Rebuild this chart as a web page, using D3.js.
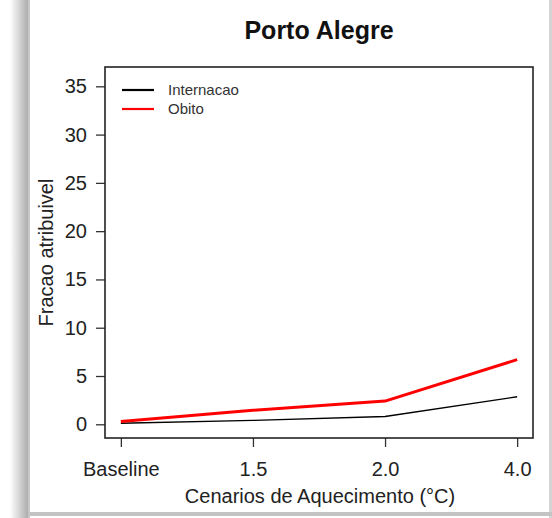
<!DOCTYPE html>
<html>
<head>
<meta charset="utf-8">
<script src="https://cdn.jsdelivr.net/npm/d3@7"></script>
<style>
  body { margin: 0; background: #fff; }
  svg { display: block; font-family: "Liberation Sans", Arial, sans-serif; }
</style>
</head>
<body>
<div id="chart"></div>
<script>
// data
const categories = ['Baseline', '1.5', '2.0', '4.0']
const internacao = [0.1, 0.4, 0.8, 2.85]
const obito = [0.3, 1.45, 2.4, 6.7]
const yTicks = [0, 5, 10, 15, 20, 25, 30, 35]
const series = [
  { name: 'Internacao', values: internacao, color: '#000', width: 1.4 },
  { name: 'Obito', values: obito, color: '#ff0000', width: 3 }
]

const W = 552
const H = 518
const box = { left: 105, right: 533, top: 67, bottom: 438 }
const FONT = '"Liberation Sans", Arial, sans-serif'

const svg = d3.select('#chart').append('svg')
  .attr('width', W)
  .attr('height', H)

// frame / shadow
const defs = svg.append('defs')
const grad = defs.append('linearGradient').attr('id', 'shadow')
grad.append('stop').attr('offset', '0%').attr('stop-color', '#fff')
grad.append('stop').attr('offset', '100%').attr('stop-color', '#a8a8a8')
svg.append('rect').attr('x', 10).attr('y', 0).attr('width', 19).attr('height', H)
  .attr('fill', 'url(#shadow)')
svg.append('rect').attr('x', 28).attr('y', 0).attr('width', 2).attr('height', H).attr('fill', '#c8c8c8')
svg.append('rect').attr('x', 549).attr('y', 0).attr('width', 3).attr('height', H).attr('fill', '#d4d4d4')
svg.append('rect').attr('x', 28).attr('y', 512).attr('width', W - 28).attr('height', 4).attr('fill', '#c4c4c4')

// scales (R style 4% padding)
const pad = (box.right - box.left) * 0.12 / 3.24
const x = d3.scalePoint()
  .domain(categories)
  .range([box.left + pad, box.right - pad])

const y = d3.scaleLinear()
  .domain([-1.42, 37.0])
  .range([box.bottom, box.top])

// axes
const yAxis = d3.axisLeft(y).tickValues(yTicks).tickSize(9).tickPadding(9)
const xAxis = d3.axisBottom(x).tickSize(9).tickPadding(15)

const gy = svg.append('g')
  .attr('transform', `translate(${box.left},0)`)
  .call(yAxis)
gy.select('.domain').remove()
gy.selectAll('line').attr('stroke', '#333').attr('stroke-width', 1.3)
gy.selectAll('text').attr('font-size', 20).attr('fill', '#222').attr('font-family', FONT)

const gx = svg.append('g')
  .attr('transform', `translate(0,${box.bottom})`)
  .call(xAxis)
gx.select('.domain').remove()
gx.selectAll('line').attr('stroke', '#333').attr('stroke-width', 1.3)
gx.selectAll('text').attr('font-size', 20).attr('fill', '#222').attr('font-family', FONT)

// plot box
svg.append('rect')
  .attr('x', box.left).attr('y', box.top)
  .attr('width', box.right - box.left).attr('height', box.bottom - box.top)
  .attr('fill', 'none').attr('stroke', '#222').attr('stroke-width', 1.6)

// lines
const line = d3.line()
  .x((d, i) => x(categories[i]))
  .y(d => y(d))

svg.selectAll('.series')
    .data(series)
  .enter()
    .append('path')
    .attr('class', 'series')
    .attr('d', d => line(d.values))
    .attr('fill', 'none')
    .attr('stroke', d => d.color)
    .attr('stroke-width', d => d.width)
    .attr('stroke-linejoin', 'round')

// legend
const legend = svg.append('g').attr('transform', 'translate(122,90)')
series.forEach((s, i) => {
  legend.append('line')
    .attr('x1', 0).attr('x2', 32)
    .attr('y1', i * 19).attr('y2', i * 19)
    .attr('stroke', s.color).attr('stroke-width', 2.2)
  legend.append('text')
    .attr('x', 46).attr('y', i * 19 + 5)
    .attr('font-size', 15).attr('fill', '#333')
    .text(s.name)
})

// titles
svg.append('text')
  .attr('x', 319).attr('y', 39)
  .attr('text-anchor', 'middle')
  .attr('font-size', 25).attr('font-weight', 'bold').attr('fill', '#111')
  .text('Porto Alegre')

svg.append('text')
  .attr('x', 320).attr('y', 503)
  .attr('text-anchor', 'middle')
  .attr('font-size', 20).attr('fill', '#222')
  .text('Cenarios de Aquecimento (°C)')

svg.append('text')
  .attr('transform', `translate(53,${(box.top + box.bottom) / 2}) rotate(-90)`)
  .attr('text-anchor', 'middle')
  .attr('font-size', 20).attr('fill', '#222')
  .text('Fracao atribuivel')
</script>
</body>
</html>
